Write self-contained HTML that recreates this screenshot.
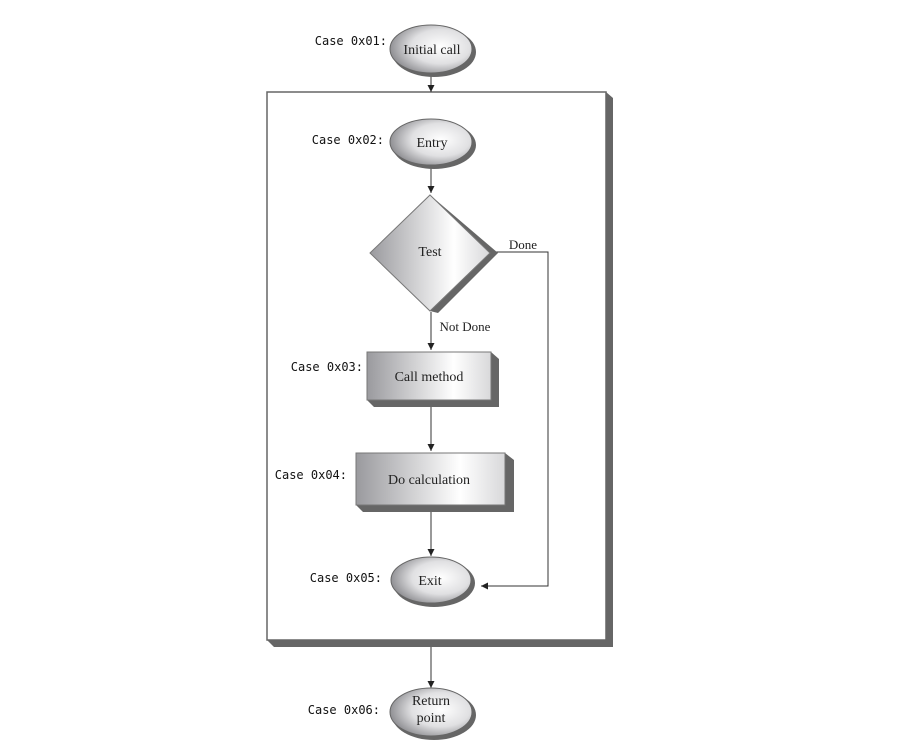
<!DOCTYPE html>
<html><head><meta charset="utf-8"><style>
html,body{margin:0;padding:0;background:#fff;}
svg{display:block;}
.lbl{font-family:"DejaVu Sans Mono","Liberation Mono",monospace;font-size:12px;fill:#111;}
.t{font-family:"Liberation Serif",serif;font-size:14px;fill:#222;text-anchor:middle;}
</style></head><body>
<svg width="900" height="756" viewBox="0 0 900 756" xmlns="http://www.w3.org/2000/svg">
<defs>
<linearGradient id="g" x1="0" y1="0" x2="1" y2="0">
<stop offset="0" stop-color="#9a9a9e"/><stop offset="0.7" stop-color="#ffffff"/><stop offset="1" stop-color="#d8d8da"/>
</linearGradient>
<radialGradient id="re" cx="0.62" cy="0.45" r="0.65">
<stop offset="0" stop-color="#ffffff"/><stop offset="0.55" stop-color="#e0e0e2"/><stop offset="1" stop-color="#88888c"/>
</radialGradient>
<marker id="a" markerWidth="8" markerHeight="8" refX="7" refY="4" orient="auto" markerUnits="userSpaceOnUse">
<path d="M0,0.5 L7,4 L0,7.5 Z" fill="#222"/>
</marker>
</defs>
<rect x="267" y="92" width="339" height="548" fill="#fff" stroke="#666" stroke-width="1.5"/>
<polygon points="606,92 613,98 613,647 274,647 267,640 606,640" fill="#666"/>

<g stroke="#333" stroke-width="1" fill="none">
<line x1="431" y1="74" x2="431" y2="92" marker-end="url(#a)"/>
<line x1="431" y1="167" x2="431" y2="193" marker-end="url(#a)"/>
<line x1="431" y1="312" x2="431" y2="350" marker-end="url(#a)"/>
<line x1="431" y1="407" x2="431" y2="451" marker-end="url(#a)"/>
<line x1="431" y1="512" x2="431" y2="556" marker-end="url(#a)"/>
<line x1="431" y1="647" x2="431" y2="688" marker-end="url(#a)"/>
<polyline points="494,252 548,252 548,586 481,586" marker-end="url(#a)"/>
</g>

<ellipse cx="434" cy="52" rx="42" ry="25" fill="#666"/>
<ellipse cx="431" cy="49" rx="41" ry="24" fill="url(#re)" stroke="#666" stroke-width="1"/>
<text class="t" x="432" y="54">Initial call</text>
<text class="lbl" x="387" y="45" text-anchor="end">Case 0x01:</text>

<ellipse cx="434" cy="145" rx="42" ry="24" fill="#666"/>
<ellipse cx="431" cy="142" rx="41" ry="23" fill="url(#re)" stroke="#666" stroke-width="1"/>
<text class="t" x="432" y="147">Entry</text>
<text class="lbl" x="384" y="144" text-anchor="end">Case 0x02:</text>

<polygon points="430,195 498,253 438,313 430,311 490,253" fill="#666"/>
<polygon points="430,195 490,253 430,311 370,253" fill="url(#g)" stroke="#777" stroke-width="1"/>
<text class="t" x="430" y="256">Test</text>
<text class="t" x="523" y="249" style="font-size:13px">Done</text>
<text class="t" x="465" y="331" style="font-size:13px">Not Done</text>

<polygon points="491,352 499,359 499,407 374,407 367,400 491,400" fill="#666"/>
<rect x="367" y="352" width="124" height="48" fill="url(#g)" stroke="#777" stroke-width="1"/>
<text class="t" x="429" y="381">Call method</text>
<text class="lbl" x="363" y="371" text-anchor="end">Case 0x03:</text>

<polygon points="505,453 514,460 514,512 363,512 356,505 505,505" fill="#666"/>
<rect x="356" y="453" width="149" height="52" fill="url(#g)" stroke="#777" stroke-width="1"/>
<text class="t" x="429" y="484">Do calculation</text>
<text class="lbl" x="347" y="479" text-anchor="end">Case 0x04:</text>

<ellipse cx="434" cy="583" rx="41" ry="24" fill="#666"/>
<ellipse cx="431" cy="580" rx="40" ry="23" fill="url(#re)" stroke="#666" stroke-width="1"/>
<text class="t" x="430" y="585">Exit</text>
<text class="lbl" x="382" y="582" text-anchor="end">Case 0x05:</text>

<ellipse cx="434" cy="715" rx="42" ry="25" fill="#666"/>
<ellipse cx="431" cy="712" rx="41" ry="24" fill="url(#re)" stroke="#666" stroke-width="1"/>
<text class="t" x="431" y="705">Return</text>
<text class="t" x="431" y="722">point</text>
<text class="lbl" x="380" y="714" text-anchor="end">Case 0x06:</text>
</svg>
</body></html>
